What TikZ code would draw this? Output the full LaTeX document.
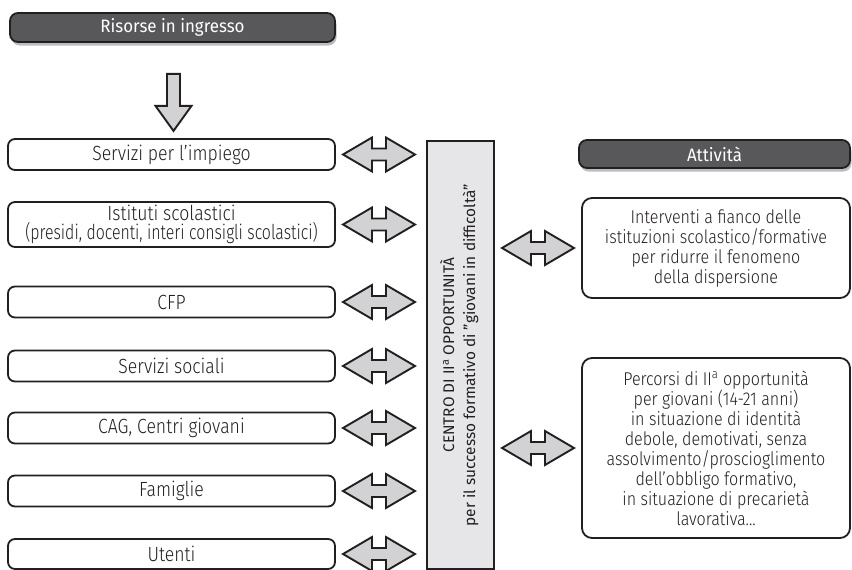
\documentclass[tikz,border=0pt]{standalone}
\usepackage{fontspec}
\setmainfont{Fira Sans}
\newfontfamily\condf{Fira Sans Light}[FakeStretch=0.86]
\newfontfamily\condg{Fira Sans Light}[FakeStretch=0.87]
\newfontfamily\hdrf{Fira Sans}[FakeStretch=0.94]
\usetikzlibrary{calc,shadows}
\definecolor{ink}{HTML}{231F20}
\definecolor{hdr}{HTML}{58585A}
\definecolor{cboxfill}{HTML}{E6E6E8}
\definecolor{arrfill}{HTML}{D2D2D4}
\definecolor{shad}{HTML}{BDBDBF}
\tikzset{
  hdrbox/.style={draw=ink, line width=1.8pt, fill=hdr, rounded corners=8pt,
    text=white, font=\hdrf\fontsize{18}{18}\selectfont,
    drop shadow={shadow xshift=1.5pt, shadow yshift=-3.5pt, fill=shad, opacity=1}},
  srcbox/.style={draw=ink, line width=1.8pt, fill=white, rounded corners=7pt,
    text=ink, align=center, minimum width=327pt, inner sep=1pt,
    font=\condf\fontsize{20.5}{19}\selectfont},
  actbox/.style={draw=ink, line width=1.8pt, fill=white, rounded corners=10pt,
    text=ink, align=center, minimum width=268pt, inner sep=1pt,
    font=\condg\fontsize{18.5}{20}\selectfont},
  centrobox/.style={draw=ink, line width=1.8pt, fill=cboxfill, text=ink,
    minimum width=67pt, minimum height=428pt, inner sep=0pt},
  blockarrow/.style={draw=ink, line width=1.9pt, fill=arrfill, line join=miter},
  dblarrow/.pic={\path[blockarrow] (-36,0) -- (-7,-17) -- (-7,-6) -- (7,-6) -- (7,-17)
     -- (36,0) -- (7,17) -- (7,6) -- (-7,6) -- (-7,17) -- cycle;},
  downarrow/.pic={\path[blockarrow] (-6.5,0) -- (6.5,0) -- (6.5,32) -- (18,32)
     -- (0,57) -- (-18,32) -- (-6.5,32) -- cycle;}
}
\begin{document}
\begin{tikzpicture}[x=1pt,y=-1pt]
\useasboundingbox (0,0) rectangle (852,570);

% headers
\node[hdrbox, minimum width=325pt, minimum height=29pt] (risorse) at (172.5,27.5) {Risorse in ingresso};
\node[hdrbox, minimum width=271pt, minimum height=28pt] (attivita) at (714.5,154) {Attività};

% down arrow
\coordinate (dtop) at ($(risorse.south)+(1,31)$);
\pic at (dtop) {downarrow};

% source boxes
\node[srcbox, minimum height=31pt] (b1) at (171.5,154.5) {Servizi per l’impiego};
\node[srcbox, minimum height=45pt] (b2) at (171.5,224.5) {Istituti scolastici\\\scalebox{0.9}[1]{(presidi, docenti, interi consigli scolastici)}};
\node[srcbox, minimum height=31pt] (b3) at (171.5,302) {CFP};
\node[srcbox, minimum height=31pt] (b4) at (171.5,366) {Servizi sociali};
\node[srcbox, minimum height=31pt] (b5) at (171.5,428) {CAG, Centri giovani};
\node[srcbox, minimum height=31pt] (b6) at (171.5,491) {Famiglie};
\node[srcbox, minimum height=30pt] (b7) at (171.5,554) {Utenti};

% central box
\node[centrobox] (centro) at (460.5,355) {\rotatebox{90}{\fontsize{15.4}{21}\selectfont
  \begin{tabular}{@{}c@{}}CENTRO DI II\textsuperscript{a} OPPORTUNITÀ\\per il successo formativo di "giovani in difficoltà"\end{tabular}}};

% activity boxes
\node[actbox, minimum height=100pt] (a1) at (716,248) {Interventi a fianco delle\\istituzioni scolastico/formative\\per ridurre il fenomeno\\della dispersione};
\node[actbox, minimum height=180pt] (a2) at (716,448) {Percorsi di II\textsuperscript{a} opportunità\\per giovani (14-21 anni)\\in situazione di identità\\debole, demotivati, senza\\assolvimento/proscioglimento\\dell’obbligo formativo,\\in situazione di precarietà\\lavorativa...};

% double arrows
\foreach \b in {b1,b2,b3,b4,b5,b6,b7}{
  \pic at ($(\b.east)!0.5!(centro.west |- \b.east)+(-2,0)$) {dblarrow};
}
\foreach \a in {a1,a2}{
  \pic at ($(\a.west)!0.5!(centro.east |- \a.west)$) {dblarrow};
}
\end{tikzpicture}
\end{document}
